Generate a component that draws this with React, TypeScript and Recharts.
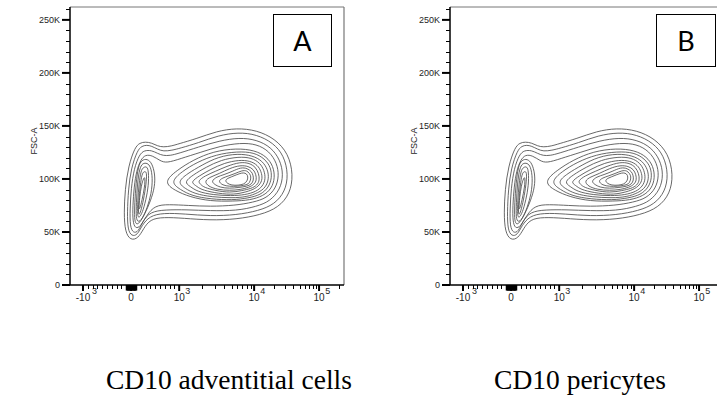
import React from "react"
import { ScatterChart, Scatter, XAxis, YAxis, ReferenceLine } from "recharts"

type Pt = [number, number]

// contour lines: x = display channel (0-1000, biexponential), y = FSC-A in thousands
const outerContours: Pt[][] = [
  [[237,130],[255,134],[275,135],[298,134],[320,131],[341,130],[370,131],[395,133],[462,138],[535,145],[608,148],[681,146],[748,138],[797,124],[815,104],[803,86],[761,73],[694,66],[608,62],[511,61],[414,63],[341,64],[292,62],[268,53],[249,44],[221,42],[201,50],[197,68],[201,90],[213,112]],
  [[246,127],[262,131],[280,132],[298,131],[320,128],[341,126],[372,127],[402,129],[468,134],[541,141],[614,144],[681,142],[742,134],[781,122],[797,104],[785,88],[746,76],[688,70],[608,66],[511,65],[420,67],[341,68],[290,65],[262,56],[246,47],[225,46],[211,52],[209,68],[213,90],[223,110]],
  [[253,123],[271,127],[298,127],[320,124],[340,122],[365,122],[395,124],[468,130],[545,136],[618,139],[681,137],[734,130],[767,118],[779,104],[767,90],[730,79],[681,74],[608,70],[511,70],[426,71],[347,71],[292,69],[265,60],[249,50],[231,49],[219,55],[219,71],[223,91],[234,110]],
  [[258,118],[275,123],[302,122],[329,117],[353,115],[402,119],[475,125],[548,131],[621,134],[681,133],[728,126],[755,115],[763,103],[751,91],[718,82],[669,78],[602,75],[511,74],[432,75],[359,76],[310,75],[280,66],[258,55],[238,53],[229,60],[229,74],[234,93],[243,108]],
]

const leftContours: Pt[][] = [
  [[262,118],[282,119],[299,115],[310,105],[310,93],[294,79],[273,67],[253,58],[241,57],[235,62],[236,77],[241,96],[249,112]],
  [[265,115],[282,115],[294,112],[302,101],[297,86],[282,73],[264,62],[248,59],[241,63],[242,77],[246,96],[254,110]],
  [[268,111],[281,112],[287,107],[287,94],[277,80],[264,68],[252,63],[246,65],[247,79],[252,96],[259,108]],
  [[270,107],[279,107],[280,101],[274,88],[263,74],[254,66],[249,67],[251,79],[256,94],[263,105]],
  [[269,101],[274,102],[273,93],[263,80],[254,71],[251,72],[254,82],[260,94]],
]

const rightContours: Pt[][] = [
  [[341,97],[389,108],[450,118],[523,126],[608,129],[675,127],[718,121],[742,112],[748,101],[736,91],[706,84],[657,80],[596,79],[511,79],[438,83],[383,89]],
  [[366,97],[408,107],[465,116],[533,123],[611,126],[672,125],[711,119],[733,111],[737,101],[725,92],[696,85],[651,82],[594,80],[513,81],[445,84],[402,90]],
  [[391,97],[428,105],[481,113],[541,121],[613,124],[667,122],[702,117],[722,109],[726,100],[714,92],[688,87],[645,83],[591,82],[517,83],[455,86],[420,91]],
  [[416,97],[450,104],[496,111],[551,118],[616,121],[663,120],[694,115],[709,108],[714,100],[703,93],[679,88],[639,85],[589,84],[521,85],[465,88],[438,93]],
  [[440,97],[472,103],[513,109],[562,115],[618,118],[658,117],[685,113],[698,107],[703,100],[692,94],[670,90],[633,87],[587,85],[526,87],[477,90],[458,94]],
  [[466,98],[493,103],[529,107],[572,112],[621,116],[655,115],[678,111],[689,105],[692,99],[683,94],[662,91],[628,89],[584,87],[531,89],[489,92],[476,95]],
  [[490,98],[513,102],[545,105],[582,110],[622,113],[651,112],[670,109],[679,104],[681,99],[673,95],[653,92],[623,90],[582,89],[538,90],[504,93]],
  [[516,98],[535,102],[562,104],[591,107],[624,111],[647,110],[663,107],[669,103],[670,99],[663,95],[645,93],[618,92],[582,91],[548,92],[526,95]],
  [[540,98],[557,101],[580,103],[602,105],[628,108],[645,108],[656,105],[661,102],[658,98],[651,95],[635,94],[613,93],[582,93],[557,94]],
  [[566,99],[579,101],[599,103],[618,105],[633,106],[645,105],[650,102],[647,98],[635,95],[614,94],[590,94],[572,96]],
]

const xMajorValues = [-1000, 0, 1000, 10000, 100000]
const xMajorBase = ["-10", "0", "10", "10", "10"]
const xMajorExp = ["3", "", "3", "4", "5"]
const xMinorValues = [
  -900, -800, -700, -600, -500, -400, -300, -200, -100,
  -90, -80, -70, -60, -50, -40, -30, -20, -10, 10, 20, 30, 40, 50, 60, 70, 80, 90,
  100, 200, 300, 400, 500, 600, 700, 800, 900,
  2000, 3000, 4000, 5000, 6000, 7000, 8000, 9000,
  20000, 30000, 40000, 50000, 60000, 70000, 80000, 90000,
  200000,
]

const yMajorValues = [0, 50, 100, 150, 200, 250]
const yMajorLabels = ["0", "50K", "100K", "150K", "200K", "250K"]
const yMinorValues = [10, 20, 30, 40, 60, 70, 80, 90, 110, 120, 130, 140, 160, 170, 180, 190, 210, 220, 230, 240, 260]

const panelLetters = ["A", "B"]
const captions = ["CD10 adventitial cells", "CD10 pericytes"]

// display transform of the fluorescence axis: linear near zero, log from 10^3 up
function toChannel(v: number) {
  if (Math.abs(v) <= 1000) return 223 + v * 0.1755
  const d = Math.log10(v / 1000)
  if (d <= 1) return 398 + 274 * d
  return 672 + 237 * (d - 1)
}

const xMajorCh = xMajorValues.map(toChannel)
const xTicks = [...xMinorValues.map(toChannel), ...xMajorCh].sort((a, b) => a - b)
const yTicks = [...yMinorValues, ...yMajorValues].sort((a, b) => a - b)
const allContours = [...outerContours, ...leftContours, ...rightContours]

const labelFont = "'Liberation Sans', Arial, sans-serif"
const labelColor = "#1e1e1e"

function XTick(props: any) {
  const { x, y, payload } = props
  const px = Math.round(x) + 0.5
  const i = xMajorCh.findIndex((c) => Math.abs(c - payload.value) < 0.01)
  if (i < 0) {
    const near = Math.abs(payload.value - xMajorCh[1]) < 18
    return <line x1={px} x2={px} y1={y} y2={y + (near ? 5.5 : 4)} stroke="#000" strokeWidth={near ? 1.5 : 1} />
  }
  const half = xMajorBase[i].length * 2.8
  return (
    <g>
      <line x1={x} x2={x} y1={y} y2={y + 6} stroke="#000" strokeWidth={2} />
      <text x={x} y={y + 15.5} textAnchor="middle" fontSize={10} style={{ fill: labelColor }} fontFamily={labelFont}>
        {xMajorBase[i]}
      </text>
      {xMajorExp[i] && (
        <text x={x + half + 0.5} y={y + 8.5} fontSize={9} style={{ fill: labelColor }} fontFamily={labelFont}>
          {xMajorExp[i]}
        </text>
      )}
    </g>
  )
}

function YTick(props: any) {
  const { x, y, payload } = props
  const i = yMajorValues.indexOf(payload.value)
  if (i < 0) {
    const py = Math.round(y) + 0.5
    return <line x1={x - 4} x2={x} y1={py} y2={py} stroke="#000" strokeWidth={1} />
  }
  return (
    <g>
      <line x1={x - 8} x2={x} y1={y} y2={y} stroke="#000" strokeWidth={2} />
      <text x={x - 10} y={y + 3.2} textAnchor="end" fontSize={9} style={{ fill: labelColor }} fontFamily={labelFont}>
        {yMajorLabels[i]}
      </text>
    </g>
  )
}

function ContourPanel() {
  return (
    <ScatterChart width={360} height={320} margin={{ top: 7, right: 16, bottom: 0, left: 0 }}>
      <XAxis
        type="number"
        dataKey="x"
        domain={[0, 1000]}
        ticks={xTicks}
        interval={0}
        tickSize={0}
        tickMargin={0}
        tickLine={false}
        tick={<XTick />}
        axisLine={{ stroke: "#000", strokeWidth: 1.5 }}
        height={35}
        allowDataOverflow
      />
      <YAxis
        type="number"
        dataKey="y"
        domain={[0, 262.144]}
        ticks={yTicks}
        interval={0}
        tickSize={0}
        tickMargin={0}
        tickLine={false}
        tick={<YTick />}
        axisLine={{ stroke: "#000", strokeWidth: 1.5 }}
        width={70}
        allowDataOverflow
        label={{
          content: (p: any) => {
            const vb = p.viewBox
            const cx = vb.x + 37
            const cy = vb.y + vb.height / 2 - 5
            return (
              <text x={cx} y={cy} transform={`rotate(-90 ${cx} ${cy})`} textAnchor="middle" fontSize={9} style={{ fill: labelColor }} fontFamily={labelFont}>
                FSC-A
              </text>
            )
          },
        }}
      />
      <ReferenceLine y={262.144} stroke="#777" strokeWidth={1} />
      <ReferenceLine x={1000} stroke="#777" strokeWidth={1.2} />
      {allContours.map((c, i) => (
        <Scatter
          key={i}
          data={c.map(([x, y]) => ({ x, y }))}
          fill="none"
          line={{ stroke: "#4d4d4d", strokeWidth: 0.85, fill: "none" }}
          lineType="joint"
          lineJointType="basisClosed"
          shape={() => <g />}
          isAnimationActive={false}
        />
      ))}
    </ScatterChart>
  )
}

export default function App() {
  const serif = "'Liberation Serif', 'Times New Roman', serif"
  return (
    <div style={{ position: "absolute", left: 0, top: 0, width: 717, height: 401, overflow: "hidden", background: "#fff" }}>
      <div style={{ position: "absolute", left: 0, top: 0 }}>
        <ContourPanel />
      </div>
      <div style={{ position: "absolute", left: 380, top: 0 }}>
        <ContourPanel />
      </div>
      <svg width={717} height={401} style={{ position: "absolute", left: 0, top: 0, pointerEvents: "none" }}>
        <rect x={273.5} y={14.5} width={58} height={52} fill="#fff" stroke="#000" strokeWidth={1} />
        <text x={302.5} y={51} textAnchor="middle" fontSize={27} fontFamily="Lato, 'Open Sans', sans-serif" fill="#000">
          {panelLetters[0]}
        </text>
        <rect x={656.5} y={14.5} width={59} height={52} fill="#fff" stroke="#000" strokeWidth={1} />
        <text x={686} y={51} textAnchor="middle" fontSize={27} fontFamily="Lato, 'Open Sans', sans-serif" fill="#000">
          {panelLetters[1]}
        </text>
        <text x={229} y={389} textAnchor="middle" fontSize={27.5} fontFamily={serif} fill="#000">
          {captions[0]}
        </text>
        <text x={580} y={389} textAnchor="middle" fontSize={27.5} fontFamily={serif} fill="#000">
          {captions[1]}
        </text>
      </svg>
    </div>
  )
}
